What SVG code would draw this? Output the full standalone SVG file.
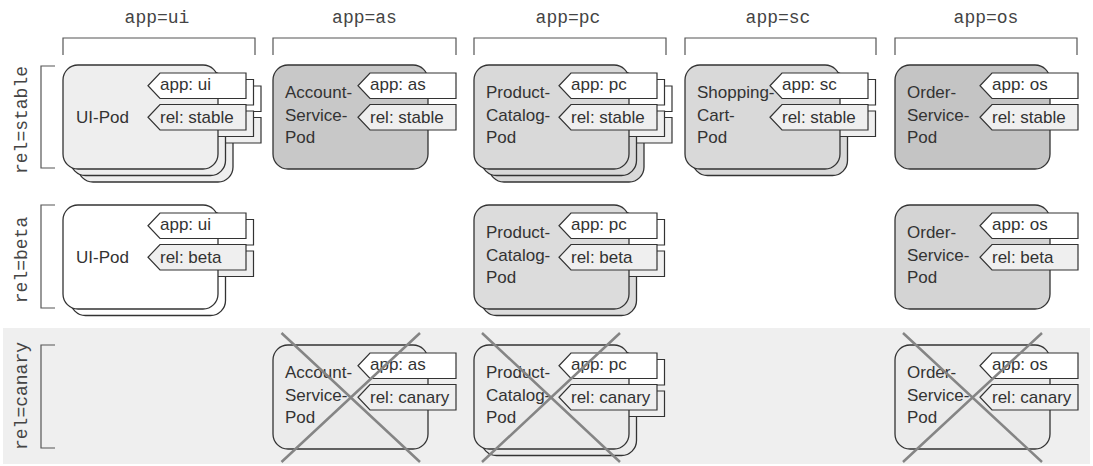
<svg xmlns="http://www.w3.org/2000/svg" xmlns:xlink="http://www.w3.org/1999/xlink" width="1093" height="466" viewBox="0 0 1093 466">
<style>
.mono{font-family:"Liberation Mono","DejaVu Sans Mono",monospace;font-size:18px;fill:#444}
.sans{font-family:"Liberation Sans",Arial,sans-serif;font-size:17px;fill:#333}
.brk{fill:none;stroke:#555;stroke-width:1.2}
.card{stroke:#333;stroke-width:1.3}
.tapp{fill:#fff;stroke:#333;stroke-width:1.2}
.trel{fill:#efefef;stroke:#333;stroke-width:1.2}
.cross{stroke:#858585;stroke-width:2.5;fill:none}
</style>
<defs>
<g id="pod">
<rect class="card" x="0" y="0" width="155" height="104" rx="15"/>
<polygon class="tapp" points="85,20.75 97,8 183,8 183,33.5 97,33.5"/>
<polygon class="trel" points="85,52.25 97,39.5 183,39.5 183,65 97,65"/>
</g>
</defs>
<rect id="canary-band" x="3" y="328" width="1087" height="136" fill="#efefef"/>
<g id="column-labels">
<text class="mono" x="157" y="23" text-anchor="middle">app=ui</text>
<text class="mono" x="364.5" y="23" text-anchor="middle">app=as</text>
<text class="mono" x="568" y="23" text-anchor="middle">app=pc</text>
<text class="mono" x="778" y="23" text-anchor="middle">app=sc</text>
<text class="mono" x="986" y="23" text-anchor="middle">app=os</text>
<path class="brk" d="M63,55V38H255V55M273,55V38H456V55M474,55V38H666V55M685,55V38H876V55M895,55V38H1077V55"/>
</g>
<g id="row-labels">
<text class="mono" transform="translate(27,120) rotate(-90)" text-anchor="middle">rel=stable</text>
<text class="mono" transform="translate(27,260) rotate(-90)" text-anchor="middle">rel=beta</text>
<text class="mono" transform="translate(27,396) rotate(-90)" text-anchor="middle">rel=canary</text>
<path class="brk" d="M55,66H41V168H55M55,205H41V308H55M55,345H41V448H55"/>
</g>
<g id="ui-stable">
<use xlink:href="#pod" href="#pod" x="78" y="78" fill="#eeeeee"/>
<use xlink:href="#pod" href="#pod" x="70.5" y="71.5" fill="#eeeeee"/>
<use xlink:href="#pod" href="#pod" x="63" y="65" fill="#eeeeee"/>
<text class="sans" x="76" y="123">UI-Pod</text>
<text class="sans" x="160" y="90">app: ui</text>
<text class="sans" x="160" y="122.5">rel: stable</text>
</g>
<g id="as-stable">
<use xlink:href="#pod" href="#pod" x="273" y="65" fill="#c8c8c8"/>
<text class="sans" x="285" y="98">Account-</text>
<text class="sans" x="285" y="120.5">Service-</text>
<text class="sans" x="285" y="143">Pod</text>
<text class="sans" x="370" y="90">app: as</text>
<text class="sans" x="370" y="122.5">rel: stable</text>
</g>
<g id="pc-stable">
<use xlink:href="#pod" href="#pod" x="489" y="78" fill="#d9d9d9"/>
<use xlink:href="#pod" href="#pod" x="481.5" y="71.5" fill="#d9d9d9"/>
<use xlink:href="#pod" href="#pod" x="474" y="65" fill="#d9d9d9"/>
<text class="sans" x="486" y="98">Product-</text>
<text class="sans" x="486" y="120.5">Catalog-</text>
<text class="sans" x="486" y="143">Pod</text>
<text class="sans" x="571" y="90">app: pc</text>
<text class="sans" x="571" y="122.5">rel: stable</text>
</g>
<g id="sc-stable">
<use xlink:href="#pod" href="#pod" x="692.5" y="71.5" fill="#d9d9d9"/>
<use xlink:href="#pod" href="#pod" x="685" y="65" fill="#d9d9d9"/>
<text class="sans" x="697" y="98">Shopping-</text>
<text class="sans" x="697" y="120.5">Cart-</text>
<text class="sans" x="697" y="143">Pod</text>
<text class="sans" x="782" y="90">app: sc</text>
<text class="sans" x="782" y="122.5">rel: stable</text>
</g>
<g id="os-stable">
<use xlink:href="#pod" href="#pod" x="895" y="65" fill="#c4c4c4"/>
<text class="sans" x="907" y="98">Order-</text>
<text class="sans" x="907" y="120.5">Service-</text>
<text class="sans" x="907" y="143">Pod</text>
<text class="sans" x="992" y="90">app: os</text>
<text class="sans" x="992" y="122.5">rel: stable</text>
</g>
<g id="ui-beta">
<use xlink:href="#pod" href="#pod" x="70.5" y="211.5" fill="#ffffff"/>
<use xlink:href="#pod" href="#pod" x="63" y="205" fill="#ffffff"/>
<text class="sans" x="76" y="263">UI-Pod</text>
<text class="sans" x="160" y="230">app: ui</text>
<text class="sans" x="160" y="262.5">rel: beta</text>
</g>
<g id="pc-beta">
<use xlink:href="#pod" href="#pod" x="481.5" y="211.5" fill="#dcdcdc"/>
<use xlink:href="#pod" href="#pod" x="474" y="205" fill="#dcdcdc"/>
<text class="sans" x="486" y="238">Product-</text>
<text class="sans" x="486" y="260.5">Catalog-</text>
<text class="sans" x="486" y="283">Pod</text>
<text class="sans" x="571" y="230">app: pc</text>
<text class="sans" x="571" y="262.5">rel: beta</text>
</g>
<g id="os-beta">
<use xlink:href="#pod" href="#pod" x="895" y="205" fill="#d4d4d4"/>
<text class="sans" x="907" y="238">Order-</text>
<text class="sans" x="907" y="260.5">Service-</text>
<text class="sans" x="907" y="283">Pod</text>
<text class="sans" x="992" y="230">app: os</text>
<text class="sans" x="992" y="262.5">rel: beta</text>
</g>
<g id="as-canary">
<use xlink:href="#pod" href="#pod" x="273" y="345" fill="#ebebeb"/>
<text class="sans" x="285" y="378">Account-</text>
<text class="sans" x="285" y="400.5">Service-</text>
<text class="sans" x="285" y="423">Pod</text>
<text class="sans" x="370" y="370">app: as</text>
<text class="sans" x="370" y="402.5">rel: canary</text>
<path class="cross" d="M281.5,333L420,462M420,333L281.5,462"/>
</g>
<g id="pc-canary">
<use xlink:href="#pod" href="#pod" x="481.5" y="351.5" fill="#ebebeb"/>
<use xlink:href="#pod" href="#pod" x="474" y="345" fill="#ebebeb"/>
<text class="sans" x="486" y="378">Product-</text>
<text class="sans" x="486" y="400.5">Catalog-</text>
<text class="sans" x="486" y="423">Pod</text>
<text class="sans" x="571" y="370">app: pc</text>
<text class="sans" x="571" y="402.5">rel: canary</text>
<path class="cross" d="M482,333L620,462M620,333L482,462"/>
</g>
<g id="os-canary">
<use xlink:href="#pod" href="#pod" x="895" y="345" fill="#ebebeb"/>
<text class="sans" x="907" y="378">Order-</text>
<text class="sans" x="907" y="400.5">Service-</text>
<text class="sans" x="907" y="423">Pod</text>
<text class="sans" x="992" y="370">app: os</text>
<text class="sans" x="992" y="402.5">rel: canary</text>
<path class="cross" d="M903,333L1042,462M1042,333L903,462"/>
</g>
<g id="connectors"></g>
</svg>
